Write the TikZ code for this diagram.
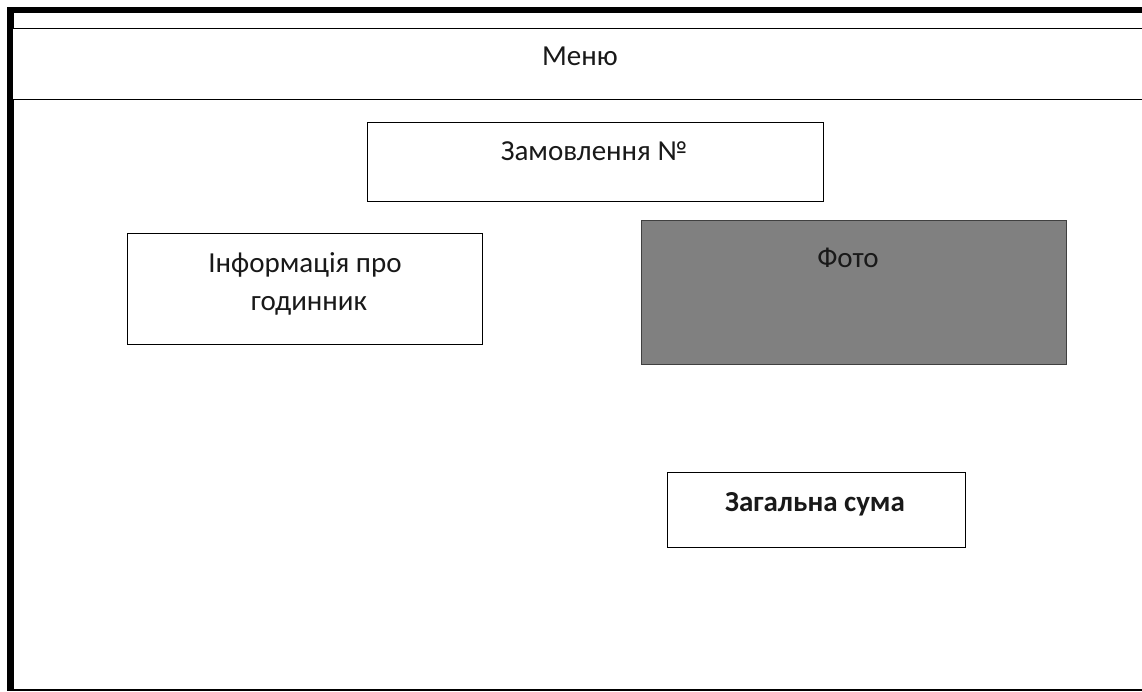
\documentclass[tikz,border=0pt]{standalone}
\usepackage{fontspec}
\setmainfont{Carlito}
\begin{document}
\begin{tikzpicture}[x=1pt,y=-1pt,
  frame/.style={line width=#1, draw=black, line cap=butt},
  panel/.style={draw=black, line width=1.4pt, fill=white, inner sep=0pt, anchor=north west},
  photo/.style={draw=black!75, line width=1.4pt, fill=black!50, inner sep=0pt, anchor=north west},
  caption/.style={font=\fontsize{29}{38}\selectfont, text=black!90, anchor=base, inner sep=0pt, align=center},
  boldcaption/.style={caption, font=\fontsize{29}{38}\selectfont\bfseries}]
  \useasboundingbox (0,0) rectangle (1142,691);
  \fill[white] (0,0) rectangle (1142,691);

  % outer window frame: heavy top and left edges, thin bottom edge
  \coordinate (tl) at (7,10);
  \coordinate (tr) at (1142,10);
  \coordinate (lt) at (10.7,7);
  \coordinate (lb) at (10.7,691);
  \coordinate (bl) at (10,689.5);
  \coordinate (br) at (1142,689.5);
  \draw[frame=6.5pt] (tl) -- (tr);
  \draw[frame=7pt] (lt) -- (lb);
  \draw[frame=2pt] (bl) -- (br);

  % menu bar
  \node[panel, minimum width=1140pt, minimum height=71pt] (menu) at (11.5,28) {};
  \node[caption] (menutext) at (580,65) {Меню};

  % order number
  \node[panel, minimum width=456pt, minimum height=79pt] (order) at (367,122) {};
  \node[caption] (ordertext) at (594,160) {Замовлення №};

  % watch information
  \node[panel, minimum width=355pt, minimum height=111pt] (info) at (127,233) {};
  \node[caption] (infotext1) at (305,272) {Інформація про};
  \node[caption] (infotext2) at (309,310) {годинник};

  % photo placeholder
  \node[photo, minimum width=425pt, minimum height=144pt] (photo) at (641,220) {};
  \node[caption] (phototext) at (848,267) {Фото};

  % total amount
  \node[panel, minimum width=298pt, minimum height=75pt] (total) at (667,472) {};
  \node[boldcaption] (totaltext) at (815,511) {Загальна сума};
\end{tikzpicture}
\end{document}
